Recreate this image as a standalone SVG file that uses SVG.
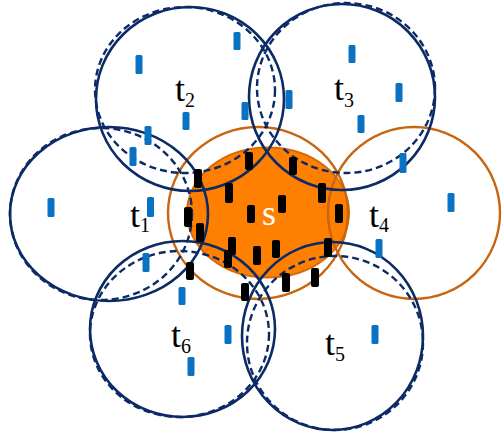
<svg xmlns="http://www.w3.org/2000/svg" width="502" height="435" viewBox="0 0 502 435">
<style>
.nv{fill:none;stroke:#0B2A66;stroke-width:2.6}
.ds{fill:none;stroke:#0B2A66;stroke-width:2.4;stroke-dasharray:7 4}
.or{fill:none;stroke:#C8650F;stroke-width:2.4}
.b{fill:#0A72C2}
.k{fill:#000}
.lb{font-family:"Liberation Serif","Times New Roman",serif;font-size:36px;fill:#000}
.sb{font-size:20px}
</style>
<rect width="502" height="435" fill="#fff"/>
<g id="node-s-fill">
<ellipse cx="268" cy="212.5" rx="81" ry="65" fill="#FF7F00" stroke="#D8690A" stroke-width="2"/>
</g>
<g id="node-s">
<ellipse class="or" cx="258" cy="213" rx="90" ry="86"/>
</g>
<g id="node-t4">
<ellipse class="or" cx="414" cy="213" rx="86" ry="86"/>
<text class="lb" x="369" y="227">t<tspan class="sb" dy="5">4</tspan></text>
</g>
<g id="node-t1">
<ellipse class="nv" cx="109" cy="214" rx="99" ry="87"/>
<ellipse class="ds" cx="101" cy="214" rx="91" ry="86"/>
<text class="lb" x="130" y="227">t<tspan class="sb" dy="5">1</tspan></text>
</g>
<g id="node-t2">
<ellipse class="nv" cx="190" cy="99" rx="94" ry="92"/>
<ellipse class="ds" cx="185" cy="90" rx="90" ry="83"/>
<text class="lb" x="175" y="101">t<tspan class="sb" dy="6">2</tspan></text>
</g>
<g id="node-t3">
<ellipse class="nv" cx="342" cy="97" rx="93" ry="93"/>
<ellipse class="ds" cx="346" cy="88" rx="89" ry="85"/>
<text class="lb" x="334" y="100">t<tspan class="sb" dy="7">3</tspan></text>
</g>
<g id="node-t5">
<ellipse class="nv" cx="332.5" cy="336" rx="90.5" ry="94"/>
<ellipse class="ds" cx="335" cy="343" rx="88" ry="87"/>
<text class="lb" x="325" y="355">t<tspan class="sb" dy="6">5</tspan></text>
</g>
<g id="node-t6">
<ellipse class="nv" cx="182.5" cy="329" rx="92.5" ry="88"/>
<ellipse class="ds" cx="179.5" cy="334" rx="89.5" ry="83"/>
<text class="lb" x="171" y="347">t<tspan class="sb" dy="6">6</tspan></text>
</g>
<g id="sensors-blue">
<rect class="b" x="233.5" y="32" width="7" height="18" rx="1.5"/>
<rect class="b" x="135.5" y="55" width="7" height="19" rx="1.5"/>
<rect class="b" x="182.5" y="112" width="7" height="18" rx="1.5"/>
<rect class="b" x="241.5" y="102" width="7" height="18" rx="1.5"/>
<rect class="b" x="144.5" y="126" width="7" height="19" rx="1.5"/>
<rect class="b" x="129.5" y="147" width="7" height="19" rx="1.5"/>
<rect class="b" x="285.5" y="90" width="7" height="19" rx="1.5"/>
<rect class="b" x="348.5" y="45" width="7" height="18" rx="1.5"/>
<rect class="b" x="395.5" y="83" width="7" height="19" rx="1.5"/>
<rect class="b" x="357.5" y="115" width="7" height="18" rx="1.5"/>
<rect class="b" x="47.5" y="198" width="7" height="19" rx="1.5"/>
<rect class="b" x="147" y="197" width="7" height="20" rx="1.5"/>
<rect class="b" x="142.5" y="253" width="7" height="19" rx="1.5"/>
<rect class="b" x="178.5" y="287" width="7" height="18" rx="1.5"/>
<rect class="b" x="224.5" y="325" width="7" height="19" rx="1.5"/>
<rect class="b" x="187.5" y="357" width="7" height="19" rx="1.5"/>
<rect class="b" x="371.5" y="325" width="7" height="19" rx="1.5"/>
<rect class="b" x="375.5" y="239" width="7" height="19" rx="1.5"/>
<rect class="b" x="399.5" y="153" width="7" height="20" rx="1.5"/>
<rect class="b" x="447.5" y="193" width="7" height="19" rx="1.5"/>
</g>
<g id="sensors-black">
<rect class="k" x="245" y="152" width="8" height="18" rx="2"/>
<rect class="k" x="289" y="157" width="8" height="18" rx="2"/>
<rect class="k" x="194" y="169" width="8" height="19" rx="2"/>
<rect class="k" x="225" y="183" width="8" height="20" rx="2"/>
<rect class="k" x="318" y="183" width="8" height="20" rx="2"/>
<rect class="k" x="278" y="195" width="8" height="18" rx="2"/>
<rect class="k" x="247" y="205" width="8" height="18" rx="2"/>
<rect class="k" x="335" y="204" width="8" height="19" rx="2"/>
<rect class="k" x="184" y="207" width="8" height="20" rx="2"/>
<rect class="k" x="196" y="223" width="8" height="19" rx="2"/>
<rect class="k" x="228" y="237" width="8" height="18" rx="2"/>
<rect class="k" x="224" y="250" width="8" height="18" rx="2"/>
<rect class="k" x="253" y="246" width="8" height="19" rx="2"/>
<rect class="k" x="272" y="240" width="8" height="18" rx="2"/>
<rect class="k" x="324" y="238" width="8" height="19" rx="2"/>
<rect class="k" x="186" y="262" width="8" height="18" rx="2"/>
<rect class="k" x="282" y="273" width="8" height="19" rx="2"/>
<rect class="k" x="311" y="268" width="8" height="19" rx="2"/>
<rect class="k" x="241" y="283" width="8" height="18" rx="2"/>
</g>
<g id="node-s-label">
<text class="lb" x="262" y="225" fill="#fff" style="fill:#fff">s</text>
</g>
</svg>
